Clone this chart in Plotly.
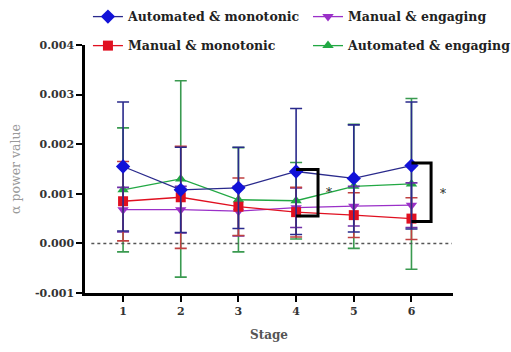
import plotly.graph_objects as go

# Stage-wise alpha power (mean and SD) for each condition
stages = [1, 2, 3, 4, 5, 6]
stage_labels = ["1", "2", "3", "4", "5", "6"]

y_ticks = [-0.001, 0, 0.001, 0.002, 0.003, 0.004]
y_tick_labels = ["-0.001", "0.000", "0.001", "0.002", "0.003", "0.004"]

auto_mono = [0.00155, 0.00108, 0.00112, 0.00145, 0.00131, 0.00157]
auto_mono_sd = [0.00130, 0.00086, 0.00082, 0.00127, 0.00108, 0.00128]

man_eng = [0.00068, 0.00068, 0.00065, 0.00072, 0.00075, 0.00077]
man_eng_sd = [0.00045, 0.00047, 0.00050, 0.00040, 0.00040, 0.00045]

man_mono = [0.00085, 0.00093, 0.00074, 0.00063, 0.00057, 0.00050]
man_mono_sd = [0.00080, 0.00103, 0.00058, 0.00050, 0.00045, 0.00042]

auto_eng = [0.00108, 0.00130, 0.00088, 0.00086, 0.00115, 0.00120]
auto_eng_sd = [0.00125, 0.00198, 0.00105, 0.00077, 0.00125, 0.00172]

# Significance brackets: (stage, bracket right edge, top, bottom, star x, star y)
brackets = [
    (4, 4.38, 0.00149, 0.00055, 4.57, 0.00101),
    (6, 6.34, 0.00162, 0.00044, 6.54, 0.00099),
]

SERIF = "DejaVu Serif"

fig = go.Figure()

# name, means, sd, marker colour, line/errorbar colour, symbol, size, legend id, legend (x, y)
series = [
    ("Automated & monotonic", auto_mono, auto_mono_sd, "#1212d8", "#2a2a8c", "diamond", 11, "legend", (0.008, 1.113)),
    ("Manual & engaging", man_eng, man_eng_sd, "#9a30c8", "#7030a8", "triangle-down", 10, "legend2", (0.606, 1.113)),
    ("Manual & monotonic", man_mono, man_mono_sd, "#e01020", "#c04040", "square", 10, "legend3", (0.008, 0.996)),
    ("Automated & engaging", auto_eng, auto_eng_sd, "#22a844", "#3a9a50", "triangle-up", 10, "legend4", (0.606, 0.996)),
]

# draw order: green/purple/red beneath, blue on top
for name, y, sd, col, ecol, sym, size, leg, _ in [series[3], series[1], series[2], series[0]]:
    fig.add_trace(go.Scatter(
        x=stages, y=y, name=name, mode="lines+markers",
        line=dict(color=ecol if name.startswith("Automated & mono") else col, width=1.3),
        marker=dict(symbol=sym, size=size, color=col),
        error_y=dict(type="data", array=sd, visible=True, color=ecol,
                     thickness=1.6, width=6),
        legend=leg,
    ))

# zero reference line
fig.add_trace(go.Scatter(
    x=[0.45, 6.7], y=[0, 0], mode="lines",
    line=dict(color="#555555", width=1.5, dash="dot"),
    showlegend=False, hoverinfo="skip",
))

for st, right, top, bot, sx, sy in brackets:
    fig.add_trace(go.Scatter(
        x=[st, right, right, st], y=[top, top, bot, bot], mode="lines",
        line=dict(color="black", width=3),
        showlegend=False, hoverinfo="skip",
    ))
    fig.add_annotation(x=sx, y=sy, text="*", showarrow=False,
                       font=dict(family=SERIF, size=12, color="#222222"))

legends = {}
for name, *_, leg, (lx, ly) in series:
    legends[leg] = dict(
        orientation="h", x=lx, y=ly, xref="paper", yref="paper", yanchor="middle",
        itemwidth=30,
        font=dict(family=SERIF, size=12.5, color="#222222", weight="bold"),
        bgcolor="rgba(0,0,0,0)",
    )

fig.update_layout(
    width=511, height=352,
    margin=dict(l=85, r=58, t=45, b=59, autoexpand=False),
    paper_bgcolor="white", plot_bgcolor="white",
    font=dict(family=SERIF, color="#222222"),
    showlegend=True,
    **legends,
)

fig.update_xaxes(
    range=[0.34, 6.72], tickvals=stages, ticktext=stage_labels,
    showline=True, linecolor="black", linewidth=2.5,
    ticks="outside", ticklen=6, tickwidth=2, tickcolor="black",
    showgrid=False, zeroline=False,
    tickfont=dict(family=SERIF, size=11, color="#333333", weight="bold"),
    title=dict(text="<b>Stage</b>", font=dict(family=SERIF, size=12, color="#555555"),
               standoff=14),
)
fig.update_yaxes(
    range=[-0.001, 0.004], tickvals=y_ticks, ticktext=y_tick_labels,
    showline=True, linecolor="black", linewidth=2.5,
    ticks="outside", ticklen=6, tickwidth=2, tickcolor="black",
    showgrid=False, zeroline=False,
    tickfont=dict(family=SERIF, size=11, color="#333333", weight="bold"),
    title=dict(text="α power value", font=dict(family=SERIF, size=12.5, color="#9a9a9a"),
               standoff=12),
)

fig.write_html("out.html")
